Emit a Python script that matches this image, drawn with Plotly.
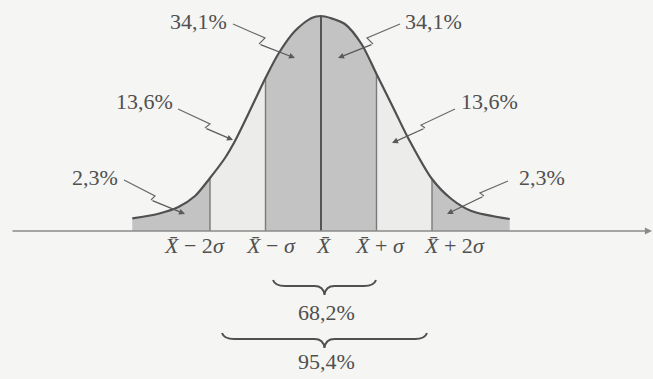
import plotly.graph_objects as go

# curve: x in sigma units from the mean, height above the axis
curve_u = [-3.40, -2.93, -2.57, -2.27, -2.00, -1.73, -1.55, -1.31, -1.00, -0.77, -0.47, -0.17,
           0.00, 0.17, 0.43, 0.73, 1.00, 1.33, 1.57, 2.00, 2.35, 2.71, 3.40]
curve_h = [12.7, 17.3, 24, 35, 53, 73, 90, 117, 153, 177, 200, 213,
           215, 213, 207, 187, 157, 120, 93, 52, 32, 20, 12]

bounds = [-3.40, -2.00, -1.00, 0.00, 1.00, 2.00, 3.40]
shares = ["2,3%", "13,6%", "34,1%", "34,1%", "13,6%", "2,3%"]
tick_vals = [-2, -1, 0, 1, 2]
tick_text = ["<i>X̄</i> − 2<i>σ</i>", "<i>X̄</i> − <i>σ</i>", "<i>X̄</i>",
             "<i>X̄</i> + <i>σ</i>", "<i>X̄</i> + 2<i>σ</i>"]
brace_text = ["68,2%", "95,4%"]

W, H = 653, 379
X0, SIG, AXIS_Y = 321, 55.5, 231


def px(x):
    return (x - X0) / SIG


def py(y):
    return AXIS_Y - y


DARK = "#c3c3c3"
LIGHT = "#ececea"
INK = "#505050"
FONT = "Liberation Serif"

fig = go.Figure()

# shaded bands
fills = [DARK, LIGHT, DARK, DARK, LIGHT, DARK]
for i in range(len(bounds) - 1):
    a, b = bounds[i], bounds[i + 1]
    xs = [u for u in curve_u if a - 1e-9 <= u <= b + 1e-9]
    ys = [curve_h[curve_u.index(u)] for u in xs]
    fig.add_trace(go.Scatter(x=xs, y=ys, mode="lines", fill="tozeroy",
                             fillcolor=fills[i], line=dict(width=0, shape="spline", smoothing=0.8),
                             hoverinfo="skip"))

# vertical dividers
for u in tick_vals:
    h = curve_h[curve_u.index(float(u))]
    fig.add_trace(go.Scatter(x=[u, u], y=[0, h], mode="lines",
                             line=dict(color="#555555" if u == 0 else "#7a7a7a",
                                       width=2 if u == 0 else 1.4),
                             hoverinfo="skip"))

# the curve
fig.add_trace(go.Scatter(x=curve_u, y=curve_h, mode="lines",
                         line=dict(color="#505050", width=2.2, shape="spline", smoothing=0.8),
                         hoverinfo="skip"))

annotations = []
shapes = []

# horizontal axis with arrow
annotations.append(dict(x=px(652), y=0, ax=px(11), ay=0, xref="x", yref="y",
                        axref="x", ayref="y", text="", showarrow=True,
                        arrowhead=2, arrowsize=1.1, arrowwidth=1.3, arrowcolor="#8a8a8a"))

# callouts: label centre, start, kink1, kink2, tip (pixels)
callouts = [
    ((95, 177), (124, 180), (155, 196), (151, 200), (185, 214)),
    ((144, 101), (178, 109), (210, 124), (205, 128), (233, 140)),
    ((198, 21), (233, 24), (265, 38), (259, 44), (295, 58)),
    ((433, 21), (400, 24), (367, 38), (373, 44), (338, 58)),
    ((489, 101), (455, 109), (421, 125), (425, 128), (392, 143)),
    ((542, 177), (508, 181), (480, 193), (484, 196), (447, 214)),
]
for lab, (c, s, k1, k2, t) in zip(shares, callouts):
    annotations.append(dict(x=px(c[0]), y=py(c[1]), text=lab, showarrow=False,
                            font=dict(family=FONT, size=22, color=INK)))
    shapes.append(dict(type="path", xref="x", yref="y",
                       path="M{},{} L{},{} L{},{}".format(px(s[0]), py(s[1]), px(k1[0]), py(k1[1]),
                                                          px(k2[0]), py(k2[1])),
                       line=dict(color="#6a6a6a", width=1.2)))
    annotations.append(dict(x=px(t[0]), y=py(t[1]), ax=px(k2[0]), ay=py(k2[1]),
                            xref="x", yref="y", axref="x", ayref="y", text="",
                            showarrow=True, arrowhead=2, arrowsize=1.0, arrowwidth=1.2,
                            arrowcolor="#5a5a5a", standoff=0))

# tick labels under the axis
label_shift = [-16, 5, 3, 3, 22]
for u, txt, sh in zip(tick_vals, tick_text, label_shift):
    annotations.append(dict(x=u, y=py(245), xshift=sh, text=txt, showarrow=False,
                            font=dict(family=FONT, size=22, color=INK)))


def brace(xl, xr, y0, y1, y2):
    xm = (xl + xr) / 2
    pts = [(xl, y0), (xl + 2, y1), (xl + 12, y1), (xm - 10, y1), (xm - 1, y1), (xm, y2),
           (xm + 1, y1), (xm + 10, y1), (xr - 12, y1), (xr - 2, y1), (xr, y0)]
    p = [(px(a), py(b)) for a, b in pts]
    return ("M{},{} Q{},{} {},{} L{},{} Q{},{} {},{} Q{},{} {},{} L{},{} Q{},{} {},{}"
            .format(*[v for q in p for v in q]))


for txt, (xl, xr, y0, y1, y2, ty) in zip(brace_text, [(273, 376, 280, 286, 295, 312),
                                                       (222, 427, 333, 339, 348, 361)]):
    shapes.append(dict(type="path", xref="x", yref="y", path=brace(xl, xr, y0, y1, y2),
                       line=dict(color="#505050", width=2)))
    annotations.append(dict(x=px(326), y=py(ty), text=txt, showarrow=False,
                            font=dict(family=FONT, size=22, color=INK)))

fig.update_layout(
    width=W, height=H,
    margin=dict(l=0, r=0, t=0, b=0),
    paper_bgcolor="#f5f5f3", plot_bgcolor="#f5f5f3",
    showlegend=False,
    xaxis=dict(range=[px(0), px(W)], visible=False, fixedrange=True),
    yaxis=dict(range=[py(H), py(0)], visible=False, fixedrange=True),
    annotations=annotations,
    shapes=shapes,
)

fig.write_html("out.html", config={"displayModeBar": False},
               post_script="document.body.style.margin='0';document.body.style.overflow='hidden';")
